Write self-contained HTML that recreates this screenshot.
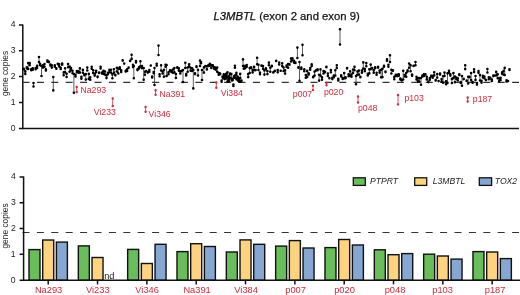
<!DOCTYPE html>
<html><head><meta charset="utf-8"><style>
html,body{margin:0;padding:0;background:#fff;}
svg{display:block;filter:grayscale(0);}
text{font-family:"Liberation Sans", sans-serif;}
</style></head><body>
<svg width="520" height="295" viewBox="0 0 520 295">
<rect width="520" height="295" fill="#fff"/>
<!-- title -->
<text x="286.6" y="19.9" font-size="11.3" text-anchor="middle" fill="#111" stroke="#111" stroke-width="0.25"><tspan font-style="italic">L3MBTL</tspan> (exon 2 and exon 9)</text>
<!-- top axes -->
<g stroke="#111" stroke-width="1.5" fill="none">
<path d="M22.8 24.5V128.6H519"/>
<path d="M19 25H22.8M19 50.7H22.8M19 76.4H22.8M19 102.4H22.8M19 128.6H22.8"/>
</g>
<g font-size="8.6" fill="#222" text-anchor="end">
<text x="15.6" y="27.2">4</text><text x="15.6" y="53.1">3</text><text x="15.6" y="78.9">2</text><text x="15.6" y="105.2">1</text><text x="15.6" y="131">0</text>
</g>
<text transform="translate(7.6,73.5) rotate(-90)" font-size="8.4" fill="#222" text-anchor="middle">gene copies</text>
<path d="M22.5 82.3H519" stroke="#333" stroke-width="1.2" stroke-dasharray="7 7.4" fill="none"/>
<path d="M23.8 69.2V68.9M25.3 73.9V71.4M26.8 67.3V68.4M28.2 63.0V69.0M29.7 65.1V63.0M31.2 69.3V70.3M32.7 68.4V69.8M33.5 83.0V86.5M35.6 69.2V68.1M37.1 68.0V65.9M39.0 57.0V62.0M40.0 65.1V63.7M41.5 66.0V76.0M43.0 65.4V67.6M44.5 64.0V66.8M45.9 69.2V70.4M47.4 60.5V61.7M48.9 62.1V61.9M50.4 65.4V64.6M51.8 65.3V67.6M53.3 77.0V90.4M54.8 65.4V66.7M56.3 68.2V68.7M57.8 63.7V64.1M59.2 66.5V64.2M60.7 67.7V69.0M62.2 64.8V63.6M63.7 75.2V72.4M65.1 68.3V72.2M66.6 73.7V77.0M68.1 67.2V64.1M69.6 66.6V71.8M71.0 70.1V68.1M72.5 70.7V73.3M73.9 74.0V92.7M75.5 76.4V74.8M76.9 71.1V72.3M78.4 72.6V71.2M79.9 72.6V68.4M81.4 76.9V78.7M82.9 69.9V72.7M84.3 74.6V75.3M85.8 74.1V79.6M87.3 70.5V67.6M88.8 73.9V78.9M90.2 77.3V79.7M91.7 68.7V66.8M93.2 70.3V73.0M94.7 74.1V75.6M96.1 72.3V70.8M97.6 77.1V76.5M99.1 72.9V72.6M100.6 66.7V68.5M102.0 72.6V73.4M103.5 73.9V70.9M105.0 74.6V71.5M106.5 75.6V78.1M107.9 74.2V72.9M109.4 72.3V69.9M110.9 72.5V69.8M112.4 78.3V74.4M113.9 72.6V69.3M115.3 74.9V75.2M116.8 67.8V71.5M118.3 73.5V68.7M119.8 67.2V68.7M121.2 72.0V70.4M122.7 60.2V60.6M124.2 63.5V63.6M125.7 71.4V70.7M127.1 69.4V71.0M128.6 67.7V67.6M130.1 60.9V61.0M131.6 58.9V54.8M133.0 64.7V67.1M133.8 66.0V78.2M136.0 62.5V61.1M137.5 70.1V69.4M139.0 68.4V67.2M140.4 66.4V61.3M141.9 66.1V68.1M143.7 68.0V79.8M144.9 74.8V71.8M146.3 71.1V71.0M147.8 72.3V72.6M149.3 71.7V70.1M150.8 65.5V65.6M152.2 77.5V76.6M153.7 73.3V72.1M154.5 68.0V85.0M156.7 63.7V65.6M158.5 45.6V55.0M159.6 76.2V74.3M161.1 70.5V65.2M162.6 73.5V71.5M164.0 76.7V69.8M165.5 64.7V66.7M166.6 65.0V76.0M168.5 72.4V74.3M170.0 70.4V70.7M171.4 72.0V70.7M172.9 72.7V69.5M174.4 72.4V68.0M175.9 74.1V77.9M177.3 67.3V67.8M178.8 70.6V68.4M180.3 71.2V73.4M181.8 70.8V71.0M183.0 70.0V82.0M185.3 62.7V68.0M186.2 75.4V74.0M187.7 71.7V67.5M189.1 66.5V64.2M190.6 67.8V70.6M192.1 71.0V68.3M193.3 70.0V88.4M195.0 73.3V74.1M196.5 66.9V66.2M198.0 69.9V75.5M200.0 60.5V66.0M201.0 62.1V63.3M202.0 70.0V80.0M203.9 72.6V67.4M205.4 66.2V66.0M206.9 69.4V66.2M208.3 65.9V65.4M209.8 65.8V63.9M211.3 68.0V65.0M212.8 65.3V66.0M214.2 68.8V67.4M215.7 67.5V69.6M217.2 67.6V71.7M218.7 74.7V73.0M220.1 74.1V73.6M221.6 80.5V81.7M223.1 77.8V78.3M224.6 76.1V79.1M226.1 73.9V75.3M227.5 81.7V72.4M229.0 80.0V81.4M230.5 77.8V78.3M232.0 79.2V80.4M233.4 84.5V85.9M234.9 65.8V67.8M236.4 75.0V72.9M237.9 77.2V80.5M239.3 78.6V81.2M240.8 81.8V81.0M243.0 59.4V66.0M243.8 65.9V68.7M245.2 68.2V66.2M246.7 65.1V66.8M248.2 74.1V77.1M249.7 73.0V68.1M251.1 67.8V67.2M252.6 72.4V69.9M254.1 70.1V66.9M255.6 70.1V70.1M257.1 57.7V64.2M258.5 70.0V64.7M260.0 74.3V72.6M261.5 65.7V65.6M263.0 66.1V68.7M264.4 74.6V70.4M265.9 69.1V68.4M267.4 71.0V74.1M268.9 65.2V62.6M270.3 67.7V71.7M271.8 66.2V65.9M273.3 72.3V72.4M274.8 71.1V70.8M276.2 60.9V60.8M277.7 70.1V72.3M279.2 62.5V64.5M280.7 70.8V70.8M282.2 63.3V66.1M283.6 71.0V67.5M285.1 73.6V70.4M286.6 65.5V66.9M288.1 67.8V64.0M289.5 64.2V64.7M291.0 58.5V61.5M292.5 58.2V60.3M294.0 62.6V60.9M295.4 62.5V62.9M297.4 47.6V58.0M298.4 67.8V67.2M299.5 62.0V80.7M301.3 67.6V68.9M302.5 44.7V55.3M304.3 71.3V69.4M305.8 75.0V77.7M307.2 70.9V77.0M308.7 73.3V74.6M310.2 68.1V69.8M311.7 66.1V64.4M313.2 76.9V77.3M314.6 71.6V75.6M316.1 70.4V70.5M317.6 70.3V69.2M319.1 80.6V74.8M320.5 75.6V69.4M322.0 79.8V77.4M323.5 71.0V73.5M325.0 72.2V71.7M326.4 67.3V66.7M327.9 73.5V76.0M329.4 78.3V78.3M330.9 70.0V72.2M332.3 79.1V77.8M333.8 77.2V75.6M335.3 70.3V75.5M336.8 68.0V65.2M338.3 80.4V78.9M340.0 29.3V44.5M341.2 75.3V76.4M342.7 79.0V78.4M344.2 73.1V78.2M345.6 78.1V77.4M347.1 68.5V68.0M348.6 76.3V74.2M350.1 75.6V71.4M351.5 74.6V76.8M353.0 72.9V69.5M354.5 66.9V70.3M356.0 76.0V84.3M357.4 74.9V71.6M358.9 74.5V70.6M360.4 77.2V76.7M361.9 70.6V72.7M363.3 68.5V62.4M364.8 69.1V71.2M366.3 63.1V66.2M367.8 75.4V73.7M369.3 73.4V69.2M370.7 69.2V64.6M372.2 68.0V68.3M373.7 70.2V72.8M375.2 68.3V67.3M376.6 72.8V74.8M378.1 66.9V67.6M379.6 72.6V70.6M381.1 69.7V77.3M382.5 77.1V68.7M384.0 65.8V66.7M385.5 72.1V71.5M387.0 60.8V59.3M388.4 64.8V66.7M390.0 55.2V62.0M391.4 73.5V69.7M392.9 70.8V70.4M394.3 79.2V76.9M395.8 74.8V75.7M397.3 76.1V74.8M398.8 74.4V75.8M400.3 78.5V79.5M401.7 79.7V80.4M403.2 70.7V79.5M404.7 75.1V76.5M406.2 76.7V73.0M407.6 71.4V70.4M409.1 63.5V67.8M410.6 71.3V65.2M412.1 75.7V74.5M413.5 66.0V65.9M415.5 62.0V65.3M416.5 79.4V76.8M418.0 81.4V78.3M419.4 78.1V81.8M421.0 78.0V84.8M422.4 75.6V76.4M423.9 74.4V75.9M425.4 74.2V74.4M426.8 76.7V79.4M428.3 82.1V81.8M429.8 79.7V78.1M431.3 76.3V75.7M432.7 76.0V77.8M434.2 75.4V72.2M435.7 80.5V80.0M437.2 74.1V77.6M438.6 81.1V81.0M440.1 73.5V74.6M441.6 79.1V81.4M443.1 76.3V82.7M444.5 72.6V75.9M446.0 81.2V84.2M447.5 82.9V73.4M449.0 70.9V72.7M450.4 75.6V74.4M451.9 83.0V78.9M453.4 73.1V78.1M454.9 76.5V82.2M456.4 77.6V79.0M457.8 80.5V78.2M459.3 74.9V74.3M460.8 82.9V82.1M462.0 76.0V85.7M463.7 78.8V79.1M465.2 65.2V69.1M466.7 80.9V80.6M468.2 83.4V76.7M469.6 76.7V77.3M471.1 80.1V73.1M472.6 82.0V82.8M474.1 72.1V69.4M475.5 79.9V76.0M477.0 84.6V83.0M478.5 72.8V71.1M480.0 75.1V80.5M481.5 82.6V80.9M482.9 75.8V77.4M484.4 76.6V78.3M485.9 80.1V80.1M487.4 72.5V69.0M488.8 79.2V77.4M490.3 78.4V77.8M491.8 81.0V79.6M493.3 75.6V76.1M494.7 75.5V75.5M496.2 71.9V75.5M497.7 74.2V78.2M499.2 78.3V81.1M500.6 80.0V77.7M502.1 72.3V73.8M503.6 74.7V70.9M504.7 67.9V75.0M506.5 80.3V81.4M508.0 81.0V81.1M509.5 69.9V69.3M222.5 77.0V76.6M223.8 76.8V74.4M225.0 77.0V75.6M226.3 78.5V77.4M227.6 77.6V81.2M228.8 76.0V78.6M230.1 73.6V74.2M231.4 78.3V74.1M232.6 80.2V79.6M233.9 78.0V76.3M235.2 77.8V75.2M236.4 78.5V79.3M237.7 76.7V77.7M239.0 80.5V81.6M240.2 73.9V78.1M241.5 80.7V80.6" fill="none" stroke="#333" stroke-width="0.8"/>
<path d="M23.8 69.2h0M23.8 68.9h0M25.3 73.9h0M25.3 71.4h0M26.8 67.3h0M26.8 68.4h0M28.2 63.0h0M28.2 69.0h0M29.7 65.1h0M29.7 63.0h0M31.2 69.3h0M31.2 70.3h0M32.7 68.4h0M32.7 69.8h0M33.5 83.0h0M33.5 86.5h0M35.6 69.2h0M35.6 68.1h0M37.1 68.0h0M37.1 65.9h0M39.0 57.0h0M39.0 62.0h0M40.0 65.1h0M40.0 63.7h0M41.5 66.0h0M41.5 76.0h0M43.0 65.4h0M43.0 67.6h0M44.5 64.0h0M44.5 66.8h0M45.9 69.2h0M45.9 70.4h0M47.4 60.5h0M47.4 61.7h0M48.9 62.1h0M48.9 61.9h0M50.4 65.4h0M50.4 64.6h0M51.8 65.3h0M51.8 67.6h0M53.3 77.0h0M53.3 90.4h0M54.8 65.4h0M54.8 66.7h0M56.3 68.2h0M56.3 68.7h0M57.8 63.7h0M57.8 64.1h0M59.2 66.5h0M59.2 64.2h0M60.7 67.7h0M60.7 69.0h0M62.2 64.8h0M62.2 63.6h0M63.7 75.2h0M63.7 72.4h0M65.1 68.3h0M65.1 72.2h0M66.6 73.7h0M66.6 77.0h0M68.1 67.2h0M68.1 64.1h0M69.6 66.6h0M69.6 71.8h0M71.0 70.1h0M71.0 68.1h0M72.5 70.7h0M72.5 73.3h0M73.9 74.0h0M73.9 92.7h0M75.5 76.4h0M75.5 74.8h0M76.9 71.1h0M76.9 72.3h0M78.4 72.6h0M78.4 71.2h0M79.9 72.6h0M79.9 68.4h0M81.4 76.9h0M81.4 78.7h0M82.9 69.9h0M82.9 72.7h0M84.3 74.6h0M84.3 75.3h0M85.8 74.1h0M85.8 79.6h0M87.3 70.5h0M87.3 67.6h0M88.8 73.9h0M88.8 78.9h0M90.2 77.3h0M90.2 79.7h0M91.7 68.7h0M91.7 66.8h0M93.2 70.3h0M93.2 73.0h0M94.7 74.1h0M94.7 75.6h0M96.1 72.3h0M96.1 70.8h0M97.6 77.1h0M97.6 76.5h0M99.1 72.9h0M99.1 72.6h0M100.6 66.7h0M100.6 68.5h0M102.0 72.6h0M102.0 73.4h0M103.5 73.9h0M103.5 70.9h0M105.0 74.6h0M105.0 71.5h0M106.5 75.6h0M106.5 78.1h0M107.9 74.2h0M107.9 72.9h0M109.4 72.3h0M109.4 69.9h0M110.9 72.5h0M110.9 69.8h0M112.4 78.3h0M112.4 74.4h0M113.9 72.6h0M113.9 69.3h0M115.3 74.9h0M115.3 75.2h0M116.8 67.8h0M116.8 71.5h0M118.3 73.5h0M118.3 68.7h0M119.8 67.2h0M119.8 68.7h0M121.2 72.0h0M121.2 70.4h0M122.7 60.2h0M122.7 60.6h0M124.2 63.5h0M124.2 63.6h0M125.7 71.4h0M125.7 70.7h0M127.1 69.4h0M127.1 71.0h0M128.6 67.7h0M128.6 67.6h0M130.1 60.9h0M130.1 61.0h0M131.6 58.9h0M131.6 54.8h0M133.0 64.7h0M133.0 67.1h0M133.8 66.0h0M133.8 78.2h0M136.0 62.5h0M136.0 61.1h0M137.5 70.1h0M137.5 69.4h0M139.0 68.4h0M139.0 67.2h0M140.4 66.4h0M140.4 61.3h0M141.9 66.1h0M141.9 68.1h0M143.7 68.0h0M143.7 79.8h0M144.9 74.8h0M144.9 71.8h0M146.3 71.1h0M146.3 71.0h0M147.8 72.3h0M147.8 72.6h0M149.3 71.7h0M149.3 70.1h0M150.8 65.5h0M150.8 65.6h0M152.2 77.5h0M152.2 76.6h0M153.7 73.3h0M153.7 72.1h0M154.5 68.0h0M154.5 85.0h0M156.7 63.7h0M156.7 65.6h0M158.5 45.6h0M158.5 55.0h0M159.6 76.2h0M159.6 74.3h0M161.1 70.5h0M161.1 65.2h0M162.6 73.5h0M162.6 71.5h0M164.0 76.7h0M164.0 69.8h0M165.5 64.7h0M165.5 66.7h0M166.6 65.0h0M166.6 76.0h0M168.5 72.4h0M168.5 74.3h0M170.0 70.4h0M170.0 70.7h0M171.4 72.0h0M171.4 70.7h0M172.9 72.7h0M172.9 69.5h0M174.4 72.4h0M174.4 68.0h0M175.9 74.1h0M175.9 77.9h0M177.3 67.3h0M177.3 67.8h0M178.8 70.6h0M178.8 68.4h0M180.3 71.2h0M180.3 73.4h0M181.8 70.8h0M181.8 71.0h0M183.0 70.0h0M183.0 82.0h0M185.3 62.7h0M185.3 68.0h0M186.2 75.4h0M186.2 74.0h0M187.7 71.7h0M187.7 67.5h0M189.1 66.5h0M189.1 64.2h0M190.6 67.8h0M190.6 70.6h0M192.1 71.0h0M192.1 68.3h0M193.3 70.0h0M193.3 88.4h0M195.0 73.3h0M195.0 74.1h0M196.5 66.9h0M196.5 66.2h0M198.0 69.9h0M198.0 75.5h0M200.0 60.5h0M200.0 66.0h0M201.0 62.1h0M201.0 63.3h0M202.0 70.0h0M202.0 80.0h0M203.9 72.6h0M203.9 67.4h0M205.4 66.2h0M205.4 66.0h0M206.9 69.4h0M206.9 66.2h0M208.3 65.9h0M208.3 65.4h0M209.8 65.8h0M209.8 63.9h0M211.3 68.0h0M211.3 65.0h0M212.8 65.3h0M212.8 66.0h0M214.2 68.8h0M214.2 67.4h0M215.7 67.5h0M215.7 69.6h0M217.2 67.6h0M217.2 71.7h0M218.7 74.7h0M218.7 73.0h0M220.1 74.1h0M220.1 73.6h0M221.6 80.5h0M221.6 81.7h0M223.1 77.8h0M223.1 78.3h0M224.6 76.1h0M224.6 79.1h0M226.1 73.9h0M226.1 75.3h0M227.5 81.7h0M227.5 72.4h0M229.0 80.0h0M229.0 81.4h0M230.5 77.8h0M230.5 78.3h0M232.0 79.2h0M232.0 80.4h0M233.4 84.5h0M233.4 85.9h0M234.9 65.8h0M234.9 67.8h0M236.4 75.0h0M236.4 72.9h0M237.9 77.2h0M237.9 80.5h0M239.3 78.6h0M239.3 81.2h0M240.8 81.8h0M240.8 81.0h0M243.0 59.4h0M243.0 66.0h0M243.8 65.9h0M243.8 68.7h0M245.2 68.2h0M245.2 66.2h0M246.7 65.1h0M246.7 66.8h0M248.2 74.1h0M248.2 77.1h0M249.7 73.0h0M249.7 68.1h0M251.1 67.8h0M251.1 67.2h0M252.6 72.4h0M252.6 69.9h0M254.1 70.1h0M254.1 66.9h0M255.6 70.1h0M255.6 70.1h0M257.1 57.7h0M257.1 64.2h0M258.5 70.0h0M258.5 64.7h0M260.0 74.3h0M260.0 72.6h0M261.5 65.7h0M261.5 65.6h0M263.0 66.1h0M263.0 68.7h0M264.4 74.6h0M264.4 70.4h0M265.9 69.1h0M265.9 68.4h0M267.4 71.0h0M267.4 74.1h0M268.9 65.2h0M268.9 62.6h0M270.3 67.7h0M270.3 71.7h0M271.8 66.2h0M271.8 65.9h0M273.3 72.3h0M273.3 72.4h0M274.8 71.1h0M274.8 70.8h0M276.2 60.9h0M276.2 60.8h0M277.7 70.1h0M277.7 72.3h0M279.2 62.5h0M279.2 64.5h0M280.7 70.8h0M280.7 70.8h0M282.2 63.3h0M282.2 66.1h0M283.6 71.0h0M283.6 67.5h0M285.1 73.6h0M285.1 70.4h0M286.6 65.5h0M286.6 66.9h0M288.1 67.8h0M288.1 64.0h0M289.5 64.2h0M289.5 64.7h0M291.0 58.5h0M291.0 61.5h0M292.5 58.2h0M292.5 60.3h0M294.0 62.6h0M294.0 60.9h0M295.4 62.5h0M295.4 62.9h0M297.4 47.6h0M297.4 58.0h0M298.4 67.8h0M298.4 67.2h0M299.5 62.0h0M299.5 80.7h0M301.3 67.6h0M301.3 68.9h0M302.5 44.7h0M302.5 55.3h0M304.3 71.3h0M304.3 69.4h0M305.8 75.0h0M305.8 77.7h0M307.2 70.9h0M307.2 77.0h0M308.7 73.3h0M308.7 74.6h0M310.2 68.1h0M310.2 69.8h0M311.7 66.1h0M311.7 64.4h0M313.2 76.9h0M313.2 77.3h0M314.6 71.6h0M314.6 75.6h0M316.1 70.4h0M316.1 70.5h0M317.6 70.3h0M317.6 69.2h0M319.1 80.6h0M319.1 74.8h0M320.5 75.6h0M320.5 69.4h0M322.0 79.8h0M322.0 77.4h0M323.5 71.0h0M323.5 73.5h0M325.0 72.2h0M325.0 71.7h0M326.4 67.3h0M326.4 66.7h0M327.9 73.5h0M327.9 76.0h0M329.4 78.3h0M329.4 78.3h0M330.9 70.0h0M330.9 72.2h0M332.3 79.1h0M332.3 77.8h0M333.8 77.2h0M333.8 75.6h0M335.3 70.3h0M335.3 75.5h0M336.8 68.0h0M336.8 65.2h0M338.3 80.4h0M338.3 78.9h0M340.0 29.3h0M340.0 44.5h0M341.2 75.3h0M341.2 76.4h0M342.7 79.0h0M342.7 78.4h0M344.2 73.1h0M344.2 78.2h0M345.6 78.1h0M345.6 77.4h0M347.1 68.5h0M347.1 68.0h0M348.6 76.3h0M348.6 74.2h0M350.1 75.6h0M350.1 71.4h0M351.5 74.6h0M351.5 76.8h0M353.0 72.9h0M353.0 69.5h0M354.5 66.9h0M354.5 70.3h0M356.0 76.0h0M356.0 84.3h0M357.4 74.9h0M357.4 71.6h0M358.9 74.5h0M358.9 70.6h0M360.4 77.2h0M360.4 76.7h0M361.9 70.6h0M361.9 72.7h0M363.3 68.5h0M363.3 62.4h0M364.8 69.1h0M364.8 71.2h0M366.3 63.1h0M366.3 66.2h0M367.8 75.4h0M367.8 73.7h0M369.3 73.4h0M369.3 69.2h0M370.7 69.2h0M370.7 64.6h0M372.2 68.0h0M372.2 68.3h0M373.7 70.2h0M373.7 72.8h0M375.2 68.3h0M375.2 67.3h0M376.6 72.8h0M376.6 74.8h0M378.1 66.9h0M378.1 67.6h0M379.6 72.6h0M379.6 70.6h0M381.1 69.7h0M381.1 77.3h0M382.5 77.1h0M382.5 68.7h0M384.0 65.8h0M384.0 66.7h0M385.5 72.1h0M385.5 71.5h0M387.0 60.8h0M387.0 59.3h0M388.4 64.8h0M388.4 66.7h0M390.0 55.2h0M390.0 62.0h0M391.4 73.5h0M391.4 69.7h0M392.9 70.8h0M392.9 70.4h0M394.3 79.2h0M394.3 76.9h0M395.8 74.8h0M395.8 75.7h0M397.3 76.1h0M397.3 74.8h0M398.8 74.4h0M398.8 75.8h0M400.3 78.5h0M400.3 79.5h0M401.7 79.7h0M401.7 80.4h0M403.2 70.7h0M403.2 79.5h0M404.7 75.1h0M404.7 76.5h0M406.2 76.7h0M406.2 73.0h0M407.6 71.4h0M407.6 70.4h0M409.1 63.5h0M409.1 67.8h0M410.6 71.3h0M410.6 65.2h0M412.1 75.7h0M412.1 74.5h0M413.5 66.0h0M413.5 65.9h0M415.5 62.0h0M415.5 65.3h0M416.5 79.4h0M416.5 76.8h0M418.0 81.4h0M418.0 78.3h0M419.4 78.1h0M419.4 81.8h0M421.0 78.0h0M421.0 84.8h0M422.4 75.6h0M422.4 76.4h0M423.9 74.4h0M423.9 75.9h0M425.4 74.2h0M425.4 74.4h0M426.8 76.7h0M426.8 79.4h0M428.3 82.1h0M428.3 81.8h0M429.8 79.7h0M429.8 78.1h0M431.3 76.3h0M431.3 75.7h0M432.7 76.0h0M432.7 77.8h0M434.2 75.4h0M434.2 72.2h0M435.7 80.5h0M435.7 80.0h0M437.2 74.1h0M437.2 77.6h0M438.6 81.1h0M438.6 81.0h0M440.1 73.5h0M440.1 74.6h0M441.6 79.1h0M441.6 81.4h0M443.1 76.3h0M443.1 82.7h0M444.5 72.6h0M444.5 75.9h0M446.0 81.2h0M446.0 84.2h0M447.5 82.9h0M447.5 73.4h0M449.0 70.9h0M449.0 72.7h0M450.4 75.6h0M450.4 74.4h0M451.9 83.0h0M451.9 78.9h0M453.4 73.1h0M453.4 78.1h0M454.9 76.5h0M454.9 82.2h0M456.4 77.6h0M456.4 79.0h0M457.8 80.5h0M457.8 78.2h0M459.3 74.9h0M459.3 74.3h0M460.8 82.9h0M460.8 82.1h0M462.0 76.0h0M462.0 85.7h0M463.7 78.8h0M463.7 79.1h0M465.2 65.2h0M465.2 69.1h0M466.7 80.9h0M466.7 80.6h0M468.2 83.4h0M468.2 76.7h0M469.6 76.7h0M469.6 77.3h0M471.1 80.1h0M471.1 73.1h0M472.6 82.0h0M472.6 82.8h0M474.1 72.1h0M474.1 69.4h0M475.5 79.9h0M475.5 76.0h0M477.0 84.6h0M477.0 83.0h0M478.5 72.8h0M478.5 71.1h0M480.0 75.1h0M480.0 80.5h0M481.5 82.6h0M481.5 80.9h0M482.9 75.8h0M482.9 77.4h0M484.4 76.6h0M484.4 78.3h0M485.9 80.1h0M485.9 80.1h0M487.4 72.5h0M487.4 69.0h0M488.8 79.2h0M488.8 77.4h0M490.3 78.4h0M490.3 77.8h0M491.8 81.0h0M491.8 79.6h0M493.3 75.6h0M493.3 76.1h0M494.7 75.5h0M494.7 75.5h0M496.2 71.9h0M496.2 75.5h0M497.7 74.2h0M497.7 78.2h0M499.2 78.3h0M499.2 81.1h0M500.6 80.0h0M500.6 77.7h0M502.1 72.3h0M502.1 73.8h0M503.6 74.7h0M503.6 70.9h0M504.7 67.9h0M504.7 75.0h0M506.5 80.3h0M506.5 81.4h0M508.0 81.0h0M508.0 81.1h0M509.5 69.9h0M509.5 69.3h0M222.5 77.0h0M222.5 76.6h0M223.8 76.8h0M223.8 74.4h0M225.0 77.0h0M225.0 75.6h0M226.3 78.5h0M226.3 77.4h0M227.6 77.6h0M227.6 81.2h0M228.8 76.0h0M228.8 78.6h0M230.1 73.6h0M230.1 74.2h0M231.4 78.3h0M231.4 74.1h0M232.6 80.2h0M232.6 79.6h0M233.9 78.0h0M233.9 76.3h0M235.2 77.8h0M235.2 75.2h0M236.4 78.5h0M236.4 79.3h0M237.7 76.7h0M237.7 77.7h0M239.0 80.5h0M239.0 81.6h0M240.2 73.9h0M240.2 78.1h0M241.5 80.7h0M241.5 80.6h0" stroke="#000" stroke-width="2.6" stroke-linecap="round" fill="none"/>
<g stroke="#cc2a3c" stroke-width="0.8"><line x1="76.7" y1="87" x2="76.7" y2="92"/><line x1="112.7" y1="98.4" x2="112.7" y2="106"/><line x1="145.6" y1="107" x2="145.6" y2="111.8"/><line x1="155.6" y1="90.2" x2="155.6" y2="94.8"/><line x1="216.3" y1="82.5" x2="216.3" y2="87.7"/><line x1="313" y1="85.8" x2="313" y2="90.1"/><line x1="326.5" y1="82.8" x2="326.5" y2="85.3"/><line x1="358" y1="96.5" x2="358" y2="102.5"/><line x1="398" y1="95" x2="398" y2="104.4"/><line x1="467.7" y1="97.5" x2="467.7" y2="101.5"/></g>
<path d="M76.7 87h0M76.7 92h0M112.7 98.4h0M112.7 106h0M145.6 107h0M145.6 111.8h0M155.6 90.2h0M155.6 94.8h0M216.3 82.5h0M216.3 87.7h0M313 85.8h0M313 90.1h0M326.5 82.8h0M326.5 85.3h0M358 96.5h0M358 102.5h0M398 95h0M398 104.4h0M467.7 97.5h0M467.7 101.5h0" stroke="#cc2a3c" stroke-width="2.4" stroke-linecap="round" fill="none"/>
<g font-size="8.7" fill="#cc2a3c"><text x="80.5" y="92.6">Na293</text><text x="93.8" y="115">Vi233</text><text x="148.6" y="116.6">Vi346</text><text x="159.5" y="96.9">Na391</text><text x="220.8" y="95.5">Vi384</text><text x="292.8" y="97.3">p007</text><text x="323.9" y="95.3">p020</text><text x="358" y="110.9">p048</text><text x="404.4" y="100.8">p103</text><text x="472.8" y="101.5">p187</text></g>
<!-- bottom chart -->
<path d="M22.5 232.5H519" stroke="#333" stroke-width="1.2" stroke-dasharray="7 7.4" fill="none"/>
<g stroke="#111" stroke-width="1.4"><rect x="29.00" y="249.60" width="11" height="30.70" fill="#6abd5b"/><rect x="42.70" y="240.00" width="11" height="40.30" fill="#fdd380"/><rect x="56.40" y="242.10" width="11" height="38.20" fill="#86a7d2"/><rect x="78.33" y="245.90" width="11" height="34.40" fill="#6abd5b"/><rect x="92.03" y="257.50" width="11" height="22.80" fill="#fdd380"/><rect x="127.66" y="249.40" width="11" height="30.90" fill="#6abd5b"/><rect x="141.36" y="263.50" width="11" height="16.80" fill="#fdd380"/><rect x="155.06" y="244.30" width="11" height="36.00" fill="#86a7d2"/><rect x="176.99" y="251.60" width="11" height="28.70" fill="#6abd5b"/><rect x="190.69" y="243.70" width="11" height="36.60" fill="#fdd380"/><rect x="204.39" y="246.50" width="11" height="33.80" fill="#86a7d2"/><rect x="226.32" y="252.00" width="11" height="28.30" fill="#6abd5b"/><rect x="240.02" y="239.90" width="11" height="40.40" fill="#fdd380"/><rect x="253.72" y="244.30" width="11" height="36.00" fill="#86a7d2"/><rect x="275.65" y="246.10" width="11" height="34.20" fill="#6abd5b"/><rect x="289.35" y="240.60" width="11" height="39.70" fill="#fdd380"/><rect x="303.05" y="248.00" width="11" height="32.30" fill="#86a7d2"/><rect x="324.98" y="247.60" width="11" height="32.70" fill="#6abd5b"/><rect x="338.68" y="239.50" width="11" height="40.80" fill="#fdd380"/><rect x="352.38" y="245.00" width="11" height="35.30" fill="#86a7d2"/><rect x="374.31" y="249.80" width="11" height="30.50" fill="#6abd5b"/><rect x="388.01" y="254.70" width="11" height="25.60" fill="#fdd380"/><rect x="401.71" y="253.60" width="11" height="26.70" fill="#86a7d2"/><rect x="423.64" y="254.20" width="11" height="26.10" fill="#6abd5b"/><rect x="437.34" y="256.00" width="11" height="24.30" fill="#fdd380"/><rect x="451.04" y="259.10" width="11" height="21.20" fill="#86a7d2"/><rect x="472.97" y="251.60" width="11" height="28.70" fill="#6abd5b"/><rect x="486.67" y="252.00" width="11" height="28.30" fill="#fdd380"/><rect x="500.37" y="258.60" width="11" height="21.70" fill="#86a7d2"/></g>
<g stroke="#111" stroke-width="1.5" fill="none">
<path d="M23.6 176.5V280.3H520"/>
<path d="M19.6 177H23.6M19.6 202.7H23.6M19.6 228.4H23.6M19.6 254.3H23.6M19.6 280.3H23.6"/>
<line x1="48.20" y1="280.3" x2="48.20" y2="284.4"/><line x1="97.53" y1="280.3" x2="97.53" y2="284.4"/><line x1="146.86" y1="280.3" x2="146.86" y2="284.4"/><line x1="196.19" y1="280.3" x2="196.19" y2="284.4"/><line x1="245.52" y1="280.3" x2="245.52" y2="284.4"/><line x1="294.85" y1="280.3" x2="294.85" y2="284.4"/><line x1="344.18" y1="280.3" x2="344.18" y2="284.4"/><line x1="393.51" y1="280.3" x2="393.51" y2="284.4"/><line x1="442.84" y1="280.3" x2="442.84" y2="284.4"/><line x1="492.17" y1="280.3" x2="492.17" y2="284.4"/>
</g>
<g font-size="8.6" fill="#222" text-anchor="end">
<text x="15.8" y="179.1">4</text><text x="15.8" y="205.1">3</text><text x="15.8" y="231.0">2</text><text x="15.6" y="257.2">1</text><text x="15.6" y="283.1">0</text>
</g>
<text transform="translate(7.6,226) rotate(-90)" font-size="8.4" fill="#222" text-anchor="middle">gene copies</text>
<g font-size="9.3" fill="#cc2a3c"><text x="48.60" y="292.6" text-anchor="middle">Na293</text><text x="97.80" y="292.6" text-anchor="middle">Vi233</text><text x="147.10" y="292.6" text-anchor="middle">Vi346</text><text x="197.10" y="292.6" text-anchor="middle">Na391</text><text x="246.10" y="292.6" text-anchor="middle">Vi384</text><text x="295.60" y="292.6" text-anchor="middle">p007</text><text x="344.50" y="292.6" text-anchor="middle">p020</text><text x="395.00" y="292.6" text-anchor="middle">p048</text><text x="442.60" y="292.6" text-anchor="middle">p103</text><text x="495.10" y="292.6" text-anchor="middle">p187</text></g>
<text x="104.2" y="278.6" font-size="9.2" fill="#222">nd</text>
<!-- legend -->
<g stroke="#111" stroke-width="1.3">
<rect x="353.3" y="177.8" width="12" height="7.6" fill="#6abd5b"/>
<rect x="414.7" y="177.8" width="12" height="7.6" fill="#fdd380"/>
<rect x="479.3" y="177.8" width="12.3" height="7.6" fill="#86a7d2"/>
</g>
<g font-size="8.6" font-style="italic" fill="#222">
<text x="370.1" y="184.4">PTPRT</text><text x="432.8" y="184.4">L3MBTL</text><text x="494.8" y="184.4">TOX2</text>
</g>
</svg>
</body></html>
